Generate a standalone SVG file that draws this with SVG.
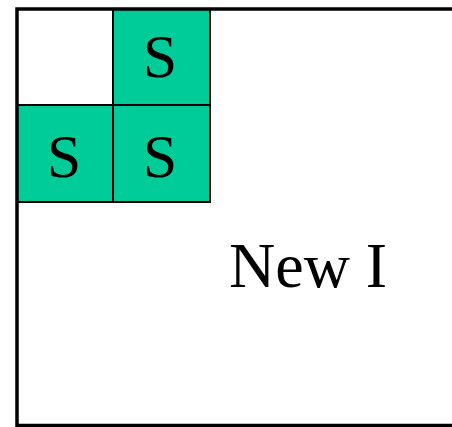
<svg xmlns="http://www.w3.org/2000/svg" width="452" height="427" viewBox="0 0 452 427">
<style>
.cell{fill:#00CC99;stroke:#000;stroke-width:2}
.s{font-family:"Liberation Serif",serif;font-size:62px;fill:#000;text-anchor:middle}
</style>
<rect width="452" height="427" fill="#fff"/>
<g id="cell-top">
<rect class="cell" x="113" y="9" width="97" height="96"/>
<text class="s" x="160" y="77">S</text>
</g>
<g id="cell-left">
<rect class="cell" x="17" y="105" width="96" height="97"/>
<text class="s" x="64" y="177">S</text>
</g>
<g id="cell-right">
<rect class="cell" x="113" y="105" width="97" height="97"/>
<text class="s" x="160" y="177">S</text>
</g>
<g id="frame">
<path d="M452 9 H17 V425.5 H452" fill="none" stroke="#000" stroke-width="3.5"/>
</g>
<g id="label">
<text x="229" y="287" font-family="Liberation Serif,serif" font-size="64" fill="#000">New I</text>
</g>
</svg>
